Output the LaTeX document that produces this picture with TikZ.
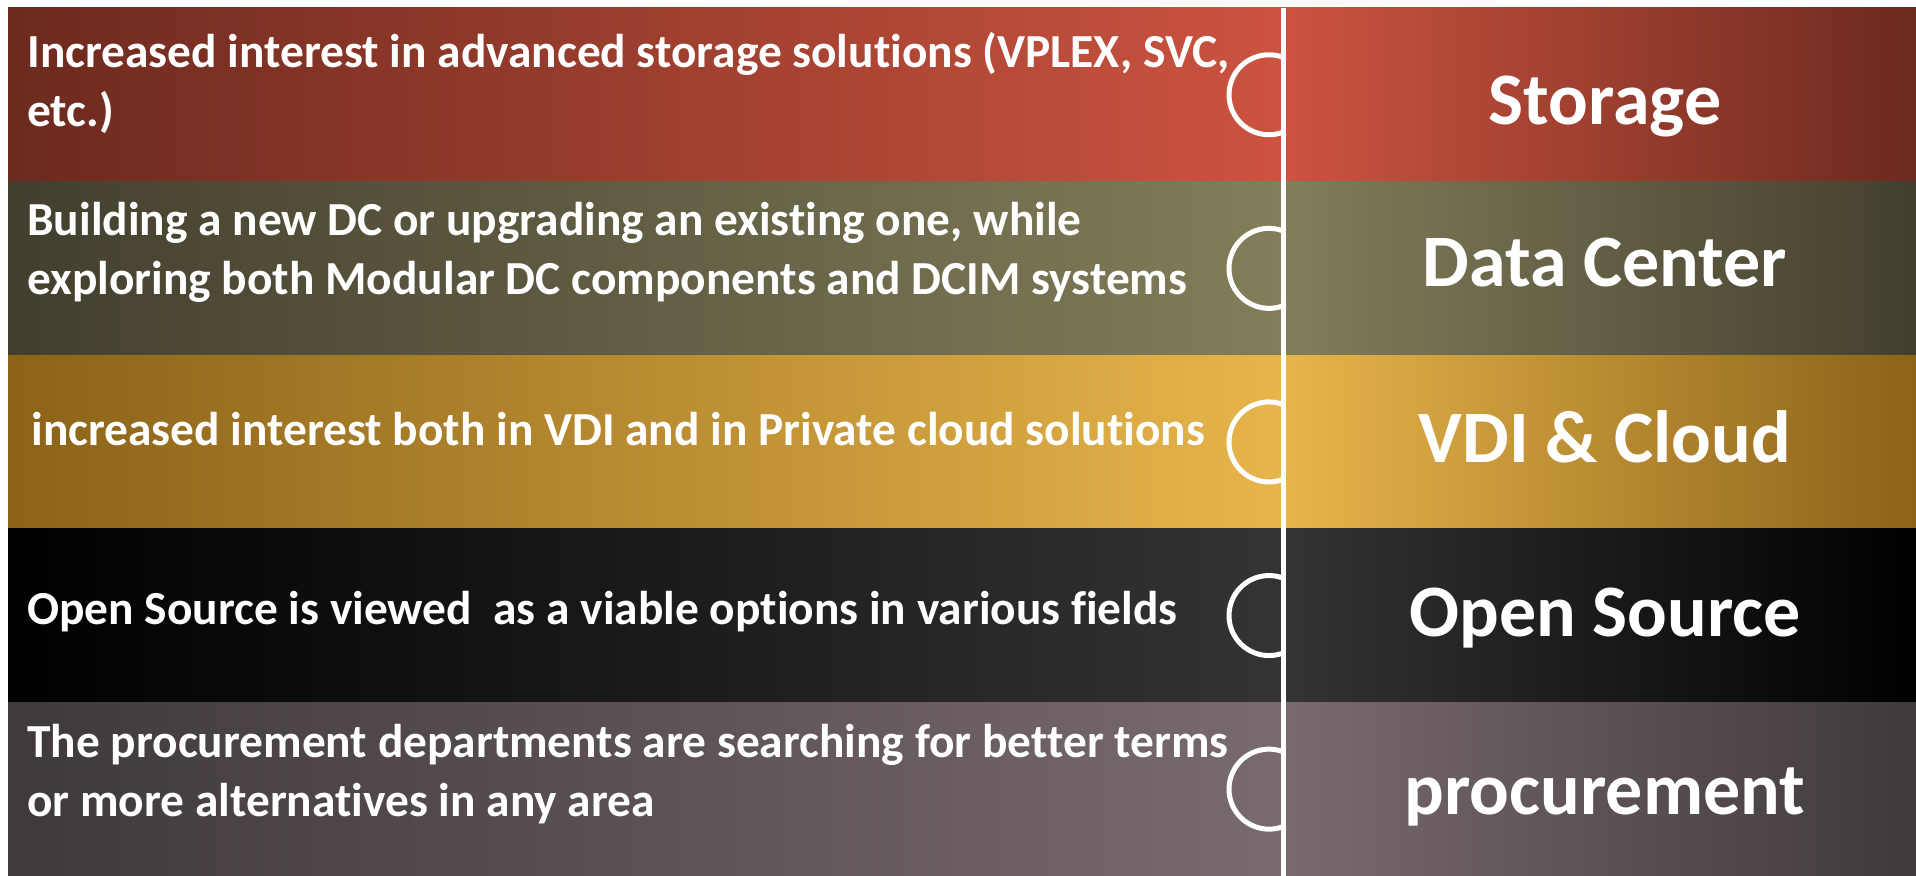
\documentclass[tikz,border=0pt]{standalone}
\usepackage{fontspec}
\setmainfont{Carlito}[Ligatures=CommonOff]
\definecolor{redD}{HTML}{6C2A1E}
\definecolor{redL}{HTML}{CC5340}
\definecolor{oliveD}{HTML}{433F2E}
\definecolor{oliveL}{HTML}{827E5A}
\definecolor{goldD}{HTML}{8B6319}
\definecolor{goldL}{HTML}{E7B54B}
\definecolor{blackD}{HTML}{000000}
\definecolor{blackL}{HTML}{343434}
\definecolor{mauveD}{HTML}{3F393C}
\definecolor{mauveL}{HTML}{786A70}
\begin{document}
\begin{tikzpicture}[x=0.5pt,y=0.5pt,
  txt/.style={font=\fontsize{23.7}{29.5}\selectfont\bfseries,text=white,inner sep=0pt,align=left,anchor=base west},
  ttl/.style={font=\fontsize{37}{40}\selectfont\bfseries,text=white,inner sep=0pt,anchor=base},
  seam/.style={white,line width=2.5pt}]
\useasboundingbox (0,0) rectangle (1916,876);
\foreach \i/\nm/\dark/\light/\tx/\ty/\txt/\hy/\ttl in {
  0/storage/redD/redL/27/-32.2/{Increased interest in advanced storage solutions (VPLEX, SVC,\\etc.)}/-30/Storage,
  1/dc/oliveD/oliveL/27/-26.6/{Building a new DC or upgrading an existing one, while\\exploring both Modular DC components and DCIM systems}/-18/Data Center,
  2/vdi/goldD/goldL/31/-4/{increased interest both in VDI and in Private cloud solutions}/-21/VDI \& Cloud,
  3/oss/blackD/blackL/27/-9/{Open Source is viewed\ \ as a viable options in various fields}/-21/Open Source,
  4/proc/mauveD/mauveL/27/-27.8/{The procurement departments are searching for better terms\\or more alternatives in any area}/-25/procurement%
}
{
  \pgfmathsetmacro\yt{868-173.6*\i}
  \pgfmathsetmacro\yb{\yt-173.6}
  \pgfmathsetmacro\ym{\yt-86.8}
  \shade[left color=\dark,right color=\light] (8,\yb) rectangle (1283,\yt);
  \shade[left color=\light,right color=\dark] (1283,\yb) rectangle (1916,\yt);
  \node[txt] (\nm-txt) at ({\tx},{\ym+\ty}) {\txt};
  \node[ttl] (\nm) at ({1605},{\ym+\hy}) {\ttl};
}
\draw[seam] (1283,868) -- (1283,0);
\foreach \i in {0,...,4}
  \draw[seam] ({1283},{781.2-173.6*\i+37.5}) arc[start angle=69.5,end angle=290.5,radius=40];
\end{tikzpicture}
\end{document}
